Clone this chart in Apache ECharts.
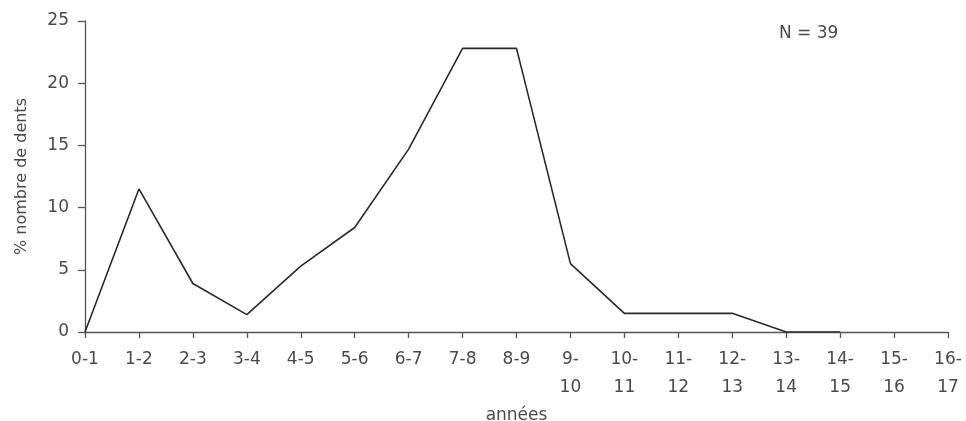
<!DOCTYPE html>
<html>
<head>
<meta charset="utf-8">
<script src="https://cdn.jsdelivr.net/npm/echarts@6/dist/echarts.min.js"></script>
<style>
  html, body { margin: 0; padding: 0; background: #fff; }
  #chart { width: 966px; height: 421px; }
</style>
</head>
<body>
<div id="chart"></div>
<script>
// classes d'âge (années)
var categories = ['0-1', '1-2', '2-3', '3-4', '4-5', '5-6', '6-7', '7-8', '8-9',
  '9-\n10', '10-\n11', '11-\n12', '12-\n13', '13-\n14', '14-\n15', '15-\n16', '16-\n17']
// % nombre de dents
var values = [0, 11.5, 3.9, 1.4, 5.3, 8.4, 14.7, 22.8, 22.8, 5.5, 1.5, 1.5, 1.5, 0, 0, null, null]
var yTicks = [0, 5, 10, 15, 20, 25]

var textColor = '#4a4a4a'
var axisColor = '#555'
var font = 'DejaVu Sans'

var chart = echarts.init(document.getElementById('chart'))
chart.setOption({
  animation: false,
  textStyle: { fontFamily: font },
  title: {
    text: 'N = 39',
    left: 774,
    top: 20,
    textStyle: { fontFamily: font, fontSize: 17, fontWeight: 'normal', color: textColor }
  },
  grid: { left: 85, right: 18, top: 21, bottom: 89, containLabel: false, outerBoundsMode: 'none' },
  xAxis: {
    type: 'category',
    data: categories,
    boundaryGap: false,
    name: 'années',
    nameLocation: 'middle',
    nameGap: 71,
    nameTextStyle: { fontFamily: font, fontSize: 17, color: textColor },
    axisLine: { lineStyle: { color: axisColor, width: 1.3 } },
    axisTick: { alignWithLabel: true, length: 6, lineStyle: { color: axisColor, width: 1.3 } },
    axisLabel: { color: textColor, fontSize: 17, margin: 14, lineHeight: 28, interval: 0 },
    splitLine: { show: false }
  },
  yAxis: {
    type: 'value',
    min: yTicks[0],
    max: yTicks[yTicks.length - 1],
    interval: 5,
    name: '% nombre de dents',
    nameLocation: 'middle',
    nameGap: 55,
    nameTextStyle: { fontFamily: font, fontSize: 16, color: textColor },
    axisLine: { show: true, lineStyle: { color: axisColor, width: 1.3 } },
    axisTick: { show: true, length: 7, lineStyle: { color: axisColor, width: 1.3 } },
    axisLabel: { color: textColor, fontSize: 17, margin: 16 },
    splitLine: { show: false }
  },
  series: [{
    type: 'line',
    data: values,
    symbol: 'none',
    lineStyle: { color: '#2a2a2a', width: 1.6 }
  }]
})
</script>
</body>
</html>
